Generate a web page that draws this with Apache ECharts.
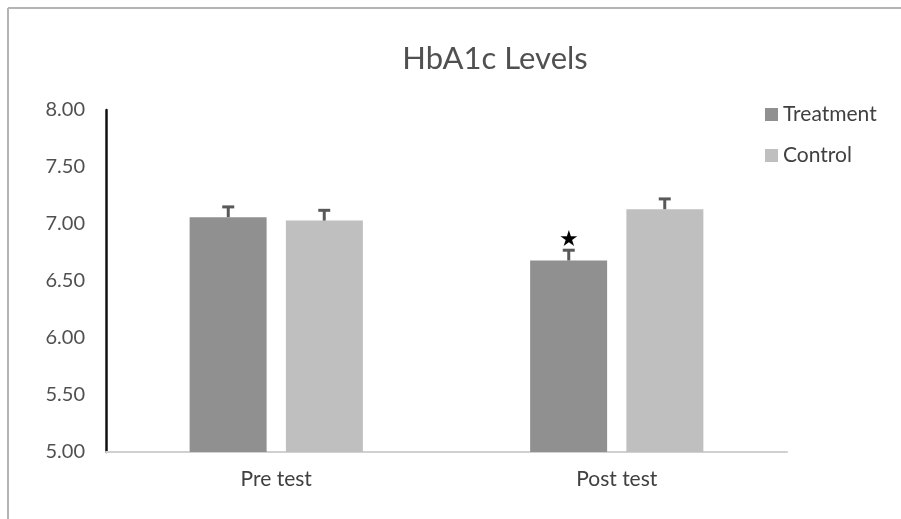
<!DOCTYPE html>
<html>
<head>
<meta charset="utf-8">
<script src="https://cdn.jsdelivr.net/npm/echarts@6/dist/echarts.min.js"></script>
<style>
html,body{margin:0;padding:0;background:#fff;}
#c{width:901px;height:519px;}
</style>
</head>
<body>
<div id="c"></div>
<script>
var categories = ['Pre test', 'Post test'];
var seriesNames = ['Treatment', 'Control'];
var treatment = [7.06, 6.68];
var control = [7.03, 7.13];
var treatmentErr = [0.09, 0.09];
var controlErr = [0.09, 0.09];
var significant = [false, true]; // star on treatment bar
var yTicks = [5, 5.5, 6, 6.5, 7, 7.5, 8];

var FONT = 'Lato';
var BAR_W = 77, BAR_GAP = 19;
var chart = echarts.init(document.getElementById('c'), null, {renderer: 'canvas'});

function errSeries(values, errs, sign, stars) {
  var data = values.map(function (v, i) { return [i, v, errs[i], stars ? (stars[i] ? 1 : 0) : 0]; });
  return {
    type: 'custom',
    silent: true,
    z: 5,
    data: data,
    renderItem: function (params, api) {
      var idx = api.value(0);
      var v = api.value(1), e = api.value(2), s = api.value(3);
      var off = sign * (BAR_W + BAR_GAP) / 2;
      var p0 = api.coord([idx, v]);
      var p1 = api.coord([idx, v + e]);
      var x = p0[0] + off;
      var children = [
        {type: 'line', shape: {x1: x, y1: p0[1], x2: x, y2: p1[1]}, style: {stroke: '#595959', lineWidth: 3}},
        {type: 'line', shape: {x1: x - 6, y1: p1[1], x2: x + 6, y2: p1[1]}, style: {stroke: '#595959', lineWidth: 3}}
      ];
      if (s) {
        children.push({type: 'text', x: x, y: p1[1] - 10, style: {text: '★', fill: '#000', fontSize: 22, align: 'center', verticalAlign: 'middle', fontFamily: 'DejaVu Sans'}});
      }
      return {type: 'group', children: children};
    }
  };
}

chart.setOption({
  backgroundColor: '#fff',
  animation: false,
  title: {
    text: 'HbA1c Levels',
    left: 490, top: 38, textAlign: 'center',
    textStyle: {fontFamily: FONT, fontSize: 31, fontWeight: 'normal', color: '#505050'}
  },
  legend: {
    orient: 'vertical',
    left: 760, top: 99,
    itemWidth: 13, itemHeight: 13, itemGap: 20,
    icon: 'rect',
    data: seriesNames,
    textStyle: {fontFamily: FONT, fontSize: 21, color: '#404040'}
  },
  grid: {left: 106, right: 114, top: 110, bottom: 67, containLabel: false},
  xAxis: {
    type: 'category',
    data: categories,
    axisLine: {lineStyle: {color: '#d0d0d0', width: 2}},
    axisTick: {show: false},
    axisLabel: {fontFamily: FONT, fontSize: 21, color: '#404040', margin: 17}
  },
  yAxis: {
    type: 'value',
    min: yTicks[0], max: yTicks[yTicks.length - 1], interval: 0.5,
    axisLine: {show: true, lineStyle: {color: '#111', width: 2.5}},
    axisTick: {show: false},
    splitLine: {show: false},
    axisLabel: {fontFamily: FONT, fontSize: 20, color: '#505050', margin: 21,
      formatter: function (v) { return v.toFixed(2); }}
  },
  series: [
    {name: seriesNames[0], type: 'bar', data: treatment, barWidth: BAR_W, barGap: '25%', itemStyle: {color: '#909090'}},
    {name: seriesNames[1], type: 'bar', data: control, barWidth: BAR_W, itemStyle: {color: '#bfbfbf'}},
    errSeries(treatment, treatmentErr, -1, significant),
    errSeries(control, controlErr, 1, null)
  ],
  graphic: [
    {type: 'line', shape: {x1: 8, y1: 8, x2: 8, y2: 519}, style: {stroke: '#b4b4b4', lineWidth: 2}},
    {type: 'line', shape: {x1: 8, y1: 8, x2: 901, y2: 8}, style: {stroke: '#b4b4b4', lineWidth: 2}}
  ]
});
</script>
</body>
</html>
